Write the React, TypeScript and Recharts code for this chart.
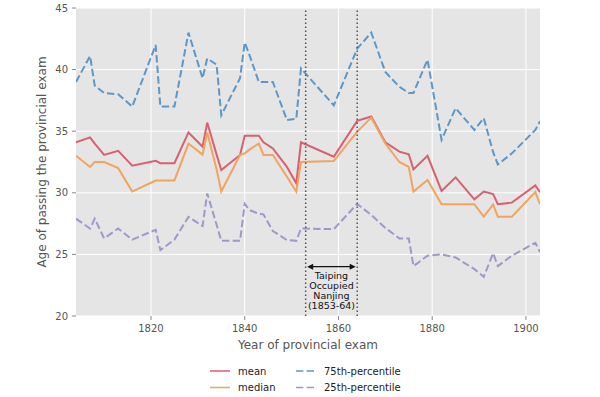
import React from 'react';
import { LineChart, Line, XAxis, YAxis, CartesianGrid, ReferenceLine, Legend } from 'recharts';

const years = [1804, 1807, 1808, 1810, 1813, 1816, 1821, 1822, 1825, 1828, 1831, 1832, 1834, 1835, 1839, 1840, 1841, 1843, 1844, 1846, 1849, 1851, 1852, 1859, 1864, 1867, 1870, 1873, 1875, 1876, 1879, 1882, 1885, 1889, 1891, 1893, 1894, 1897, 1902, 1903];
const meanAge = [34.1, 34.5, 34.0, 33.07, 33.4, 32.2, 32.6, 32.4, 32.4, 34.9, 33.75, 35.7, 33.1, 31.85, 33.07, 34.64, 34.64, 34.64, 34.1, 33.6, 32.1, 30.77, 34.1, 32.93, 35.84, 36.19, 34.1, 33.34, 33.13, 31.9, 33.0, 30.15, 31.25, 29.47, 30.1, 29.9, 29.07, 29.2, 30.6, 30.05];
const medianAge = [33.0, 32.1, 32.5, 32.5, 32.0, 30.1, 31.0, 31.0, 31.0, 34.0, 33.1, 34.9, 31.9, 30.1, 33.07, 33.2, 33.5, 34.0, 33.07, 33.07, 31.3, 30.09, 32.5, 32.58, 34.97, 36.1, 34.0, 32.5, 32.1, 30.1, 31.04, 29.07, 29.07, 29.07, 28.06, 29.05, 28.06, 28.06, 30.06, 29.07];
const p75Age = [39.0, 41.1, 38.7, 38.1, 38.0, 37.0, 42.0, 37.0, 37.0, 43.0, 39.3, 40.9, 40.4, 36.3, 39.3, 42.2, 41.2, 39.0, 39.0, 39.0, 35.9, 36.0, 40.1, 37.1, 41.7, 43.0, 39.8, 38.6, 38.1, 38.1, 40.8, 34.3, 36.87, 35.1, 36.06, 33.3, 32.3, 33.2, 35.1, 35.8];
const p25Age = [27.9, 27.1, 27.9, 26.3, 27.1, 26.2, 27.0, 25.35, 26.2, 28.05, 27.3, 29.95, 27.4, 26.1, 26.1, 29.1, 28.6, 28.3, 28.25, 26.9, 26.16, 26.1, 27.1, 27.05, 29.1, 28.2, 27.15, 26.3, 26.3, 24.05, 24.9, 25.0, 24.75, 23.8, 23.18, 25.1, 24.05, 24.9, 25.94, 25.2];

const xTicks = [1820, 1840, 1860, 1880, 1900];
const yTicks = [20, 25, 30, 35, 40, 45];
const xDomain = [1804, 1903];
const yDomain = [20, 45];
const taipingStart = 1853;
const taipingEnd = 1864;
const arrowLevel = 24;
const annotationLines = ['Taiping', 'Occupied', 'Nanjing', '(1853-64)'];

const DASH = '7.4 3.2';
const series = [
  { key: 'mean', name: 'mean', color: '#D9606E', dash: undefined as string | undefined },
  { key: 'median', name: 'median', color: '#F2A35E', dash: undefined as string | undefined },
  { key: 'p75', name: '75th-percentile', color: '#5B97C9', dash: DASH },
  { key: 'p25', name: '25th-percentile', color: '#9C9AC9', dash: DASH },
];

const data = years.map((year, i) => ({
  year,
  mean: meanAge[i],
  median: medianAge[i],
  p75: p75Age[i],
  p25: p25Age[i],
}));

const FONT = '"DejaVu Sans", sans-serif';

const ArrowShape = (props: any) => {
  const { x1, y1, x2 } = props;
  const a = x1 + 1.5;
  const b = x2 - 1.5;
  const y = y1;
  const mid = (x1 + x2) / 2;
  return (
    <g>
      <line x1={a + 4} y1={y} x2={b - 4} y2={y} stroke="#111" strokeWidth={1.3} />
      <path d={`M ${a} ${y} L ${a + 6} ${y - 3} L ${a + 6} ${y + 3} Z`} fill="#111" />
      <path d={`M ${b} ${y} L ${b - 6} ${y - 3} L ${b - 6} ${y + 3} Z`} fill="#111" />
      {annotationLines.map((t, i) => (
        <text key={t} x={mid} y={y + 12.5 + i * 9.8} textAnchor="middle" fontSize={9.5} fill="#111" fontFamily={FONT}>
          {t}
        </text>
      ))}
    </g>
  );
};

const LegendContent = () => {
  const cols = [
    [series[0], series[1]],
    [series[2], series[3]],
  ];
  const colX = [210, 296];
  return (
    <svg width={600} height={32} style={{ display: 'block' }}>
      {cols.map((col, ci) =>
        col.map((s, ri) => {
          const cy = 8 + ri * 16.5;
          return (
            <g key={s.key}>
              <line x1={colX[ci]} x2={colX[ci] + 20} y1={cy} y2={cy} stroke={s.color} strokeWidth={1.5} strokeDasharray={s.dash} />
              <text x={colX[ci] + 28} y={cy + 3.6} fontSize={10} fill="#222" fontFamily={FONT}>
                {s.name}
              </text>
            </g>
          );
        })
      )}
    </svg>
  );
};

export default function App() {
  return (
    <div style={{ position: 'absolute', left: 0, top: 0, fontFamily: FONT }}>
      <LineChart width={600} height={397} data={data} margin={{ top: 8, right: 60, bottom: 2, left: 0 }}>
        <CartesianGrid fill="#E5E5E5" stroke="#FFFFFF" strokeWidth={1} horizontalValues={yTicks} verticalValues={xTicks} />
        <XAxis
          dataKey="year"
          type="number"
          domain={xDomain}
          ticks={xTicks}
          allowDataOverflow
          tickSize={4}
          tickMargin={5}
          axisLine={false}
          tickLine={{ stroke: '#888' }}
          tick={{ fontSize: 10, fill: '#555', fontFamily: FONT }}
          height={47}
          label={{ value: 'Year of provincial exam', position: 'insideBottom', offset: 13.7, fill: '#555', fontSize: 12, style: { fontFamily: FONT } }}
        />
        <XAxis
          xAxisId="top"
          orientation="top"
          type="number"
          domain={xDomain}
          ticks={xTicks}
          allowDataOverflow
          tickSize={4}
          axisLine={false}
          tickLine={{ stroke: '#888' }}
          tick={false}
          height={0}
        />
        <YAxis
          type="number"
          domain={yDomain}
          ticks={yTicks}
          allowDataOverflow
          width={76}
          tickSize={4}
          tickMargin={4}
          axisLine={false}
          tickLine={{ stroke: '#888' }}
          tick={{ fontSize: 10, fill: '#555', fontFamily: FONT }}
          label={{ value: 'Age of passing the provincial exam', angle: -90, position: 'insideLeft', offset: 42, fill: '#555', fontSize: 12, style: { textAnchor: 'middle', fontFamily: FONT } }}
        />
        <YAxis
          yAxisId="right"
          orientation="right"
          type="number"
          domain={yDomain}
          ticks={yTicks}
          allowDataOverflow
          width={0}
          tickSize={4}
          axisLine={false}
          tickLine={{ stroke: '#888' }}
          tick={false}
        />
        {series.map((s) => (
          <Line
            key={s.key}
            dataKey={s.key}
            name={s.name}
            type="linear"
            stroke={s.color}
            strokeWidth={2}
            strokeDasharray={s.dash}
            dot={false}
            activeDot={false}
            isAnimationActive={false}
          />
        ))}
        <ReferenceLine x={taipingStart} stroke="#555" strokeWidth={1.5} strokeDasharray="1.5 2.5" />
        <ReferenceLine x={taipingEnd} stroke="#555" strokeWidth={1.5} strokeDasharray="1.5 2.5" />
        <ReferenceLine
          segment={[
            { x: taipingStart, y: arrowLevel },
            { x: taipingEnd, y: arrowLevel },
          ]}
          shape={ArrowShape}
        />
        <Legend verticalAlign="bottom" content={LegendContent} wrapperStyle={{ left: 0, width: 600, height: 32, bottom: 2 }} />
      </LineChart>
    </div>
  );
}
